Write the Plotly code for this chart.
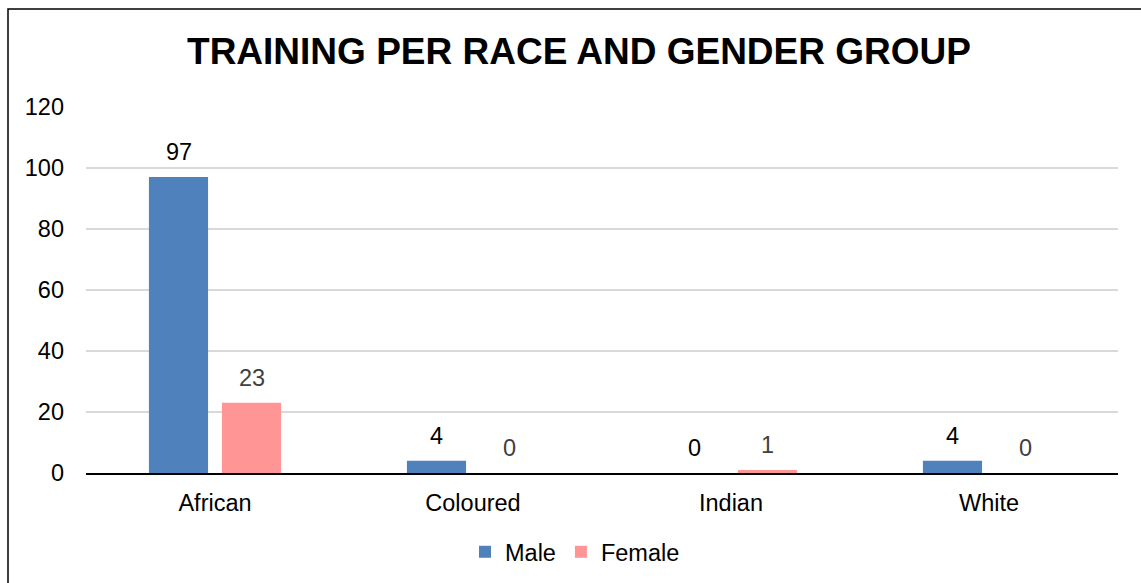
import plotly.graph_objects as go

categories = ["African", "Coloured", "Indian", "White"]
male = [97, 4, 0, 4]
female = [23, 0, 1, 0]
y_ticks = [0, 20, 40, 60, 80, 100, 120]

W, H = 1141, 583
L, R, T, B = 86, 23, 106, 110
pw, ph = W - L - R, H - T - B
FONT = "Liberation Sans, Arial"
FS = 23.5

def px(x):
    return (x - L) / pw

def py(y):
    return (H - B - y) / ph

fig = go.Figure()
fig.add_trace(go.Bar(x=categories, y=male, name="Male", marker_color="#4F81BD",
                     marker_line_width=0))
fig.add_trace(go.Bar(x=categories, y=female, name="Female", marker_color="#FF9595",
                     marker_line_width=0))

# data labels, placed at each bar top through the axis scales
for series, shift, color in [(male, -36.5, "#000000"), (female, 36.5, "#404040")]:
    for cat, val in zip(categories, series):
        fig.add_annotation(x=cat, y=val, xref="x", yref="y", text=str(val),
                           showarrow=False, xshift=shift, yshift=10,
                           yanchor="bottom", xanchor="center",
                           font=dict(family=FONT, size=FS, color=color))

fig.update_layout(
    width=W, height=H,
    margin=dict(l=L, r=R, t=T, b=B, autoexpand=False),
    paper_bgcolor="white", plot_bgcolor="white",
    barmode="group", bargap=0.434, bargroupgap=0.19,
    title=dict(text="<b>TRAINING PER RACE AND GENDER GROUP</b>",
               x=px(579), xref="paper", xanchor="center",
               y=1 - 51 / H, yanchor="middle",
               font=dict(family=FONT, size=37, color="#000000")),
    font=dict(family=FONT, color="#000000"),
    showlegend=True,
    legend=dict(orientation="h", x=px(575), xanchor="center",
                y=py(552), yanchor="middle",
                font=dict(size=FS, color="#000000"), itemwidth=30,
                traceorder="normal"),
    xaxis=dict(showline=True, linecolor="#000000", linewidth=2, ticks="",
               ticklabelstandoff=8, automargin=False,
               tickfont=dict(size=FS, color="#000000")),
    yaxis=dict(range=[0, 120.3], tickvals=y_ticks, showgrid=True,
               gridcolor="#D9D9D9", gridwidth=1.5, zeroline=False,
               showline=False, ticks="", ticklabelstandoff=21, automargin=False,
               tickfont=dict(size=FS, color="#000000")),
    shapes=[dict(type="rect", xref="paper", yref="paper",
                 x0=px(8), y0=py(H + 20), x1=px(W + 20), y1=py(9),
                 line=dict(color="#000000", width=1.5), layer="below")],
)

fig.write_html("out.html")
